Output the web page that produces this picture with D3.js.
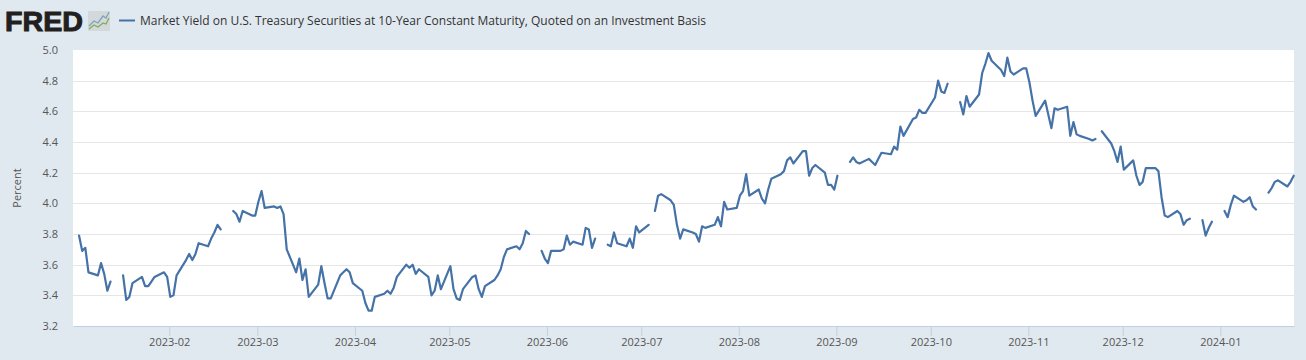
<!DOCTYPE html>
<html>
<head>
<meta charset="utf-8">
<title>Market Yield on U.S. Treasury Securities at 10-Year Constant Maturity</title>
<script src="https://cdn.jsdelivr.net/npm/d3@7"></script>
<style>
    html, body { margin: 0; padding: 0; background: #e1e9f0; }
    svg { display: block; }
    text { font-family: "Open Sans", sans-serif; }
</style>
</head>
<body>
<div id="chart"></div>
<script>
// Data: trading days and 10-year yields, null marks a market holiday (line breaks there)
const seriesName = 'Market Yield on U.S. Treasury Securities at 10-Year Constant Maturity, Quoted on an Investment Basis';
const yTickValues = [3.2, 3.4, 3.6, 3.8, 4.0, 4.2, 4.4, 4.6, 4.8, 5.0];
const xTickLabels = ['2023-02', '2023-03', '2023-04', '2023-05', '2023-06', '2023-07', '2023-08', '2023-09', '2023-10', '2023-11', '2023-12', '2024-01'];

const dates = [
    '2023-01-03', '2023-01-04', '2023-01-05', '2023-01-06', '2023-01-09', '2023-01-10', '2023-01-11', '2023-01-12', '2023-01-13', '2023-01-16', '2023-01-17', '2023-01-18', '2023-01-19', '2023-01-20', '2023-01-23', '2023-01-24', '2023-01-25', '2023-01-26', '2023-01-27', '2023-01-30', '2023-01-31',
    '2023-02-01', '2023-02-02', '2023-02-03', '2023-02-06', '2023-02-07', '2023-02-08', '2023-02-09', '2023-02-10', '2023-02-13', '2023-02-14', '2023-02-15', '2023-02-16', '2023-02-17', '2023-02-20', '2023-02-21', '2023-02-22', '2023-02-23', '2023-02-24', '2023-02-27', '2023-02-28',
    '2023-03-01', '2023-03-02', '2023-03-03', '2023-03-06', '2023-03-07', '2023-03-08', '2023-03-09', '2023-03-10', '2023-03-13', '2023-03-14', '2023-03-15', '2023-03-16', '2023-03-17', '2023-03-20', '2023-03-21', '2023-03-22', '2023-03-23', '2023-03-24', '2023-03-27', '2023-03-28', '2023-03-29', '2023-03-30', '2023-03-31',
    '2023-04-03', '2023-04-04', '2023-04-05', '2023-04-06', '2023-04-07', '2023-04-10', '2023-04-11', '2023-04-12', '2023-04-13', '2023-04-14', '2023-04-17', '2023-04-18', '2023-04-19', '2023-04-20', '2023-04-21', '2023-04-24', '2023-04-25', '2023-04-26', '2023-04-27', '2023-04-28',
    '2023-05-01', '2023-05-02', '2023-05-03', '2023-05-04', '2023-05-05', '2023-05-08', '2023-05-09', '2023-05-10', '2023-05-11', '2023-05-12', '2023-05-15', '2023-05-16', '2023-05-17', '2023-05-18', '2023-05-19', '2023-05-22', '2023-05-23', '2023-05-24', '2023-05-25', '2023-05-26', '2023-05-29', '2023-05-30', '2023-05-31',
    '2023-06-01', '2023-06-02', '2023-06-05', '2023-06-06', '2023-06-07', '2023-06-08', '2023-06-09', '2023-06-12', '2023-06-13', '2023-06-14', '2023-06-15', '2023-06-16', '2023-06-19', '2023-06-20', '2023-06-21', '2023-06-22', '2023-06-23', '2023-06-26', '2023-06-27', '2023-06-28', '2023-06-29', '2023-06-30',
    '2023-07-03', '2023-07-04', '2023-07-05', '2023-07-06', '2023-07-07', '2023-07-10', '2023-07-11', '2023-07-12', '2023-07-13', '2023-07-14', '2023-07-17', '2023-07-18', '2023-07-19', '2023-07-20', '2023-07-21', '2023-07-24', '2023-07-25', '2023-07-26', '2023-07-27', '2023-07-28', '2023-07-31',
    '2023-08-01', '2023-08-02', '2023-08-03', '2023-08-04', '2023-08-07', '2023-08-08', '2023-08-09', '2023-08-10', '2023-08-11', '2023-08-14', '2023-08-15', '2023-08-16', '2023-08-17', '2023-08-18', '2023-08-21', '2023-08-22', '2023-08-23', '2023-08-24', '2023-08-25', '2023-08-28', '2023-08-29', '2023-08-30', '2023-08-31',
    '2023-09-01', '2023-09-04', '2023-09-05', '2023-09-06', '2023-09-07', '2023-09-08', '2023-09-11', '2023-09-12', '2023-09-13', '2023-09-14', '2023-09-15', '2023-09-18', '2023-09-19', '2023-09-20', '2023-09-21', '2023-09-22', '2023-09-25', '2023-09-26', '2023-09-27', '2023-09-28', '2023-09-29',
    '2023-10-02', '2023-10-03', '2023-10-04', '2023-10-05', '2023-10-06', '2023-10-09', '2023-10-10', '2023-10-11', '2023-10-12', '2023-10-13', '2023-10-16', '2023-10-17', '2023-10-18', '2023-10-19', '2023-10-20', '2023-10-23', '2023-10-24', '2023-10-25', '2023-10-26', '2023-10-27', '2023-10-30', '2023-10-31',
    '2023-11-01', '2023-11-02', '2023-11-03', '2023-11-06', '2023-11-07', '2023-11-08', '2023-11-09', '2023-11-10', '2023-11-13', '2023-11-14', '2023-11-15', '2023-11-16', '2023-11-17', '2023-11-20', '2023-11-21', '2023-11-22', '2023-11-23', '2023-11-24', '2023-11-27', '2023-11-28', '2023-11-29', '2023-11-30',
    '2023-12-01', '2023-12-04', '2023-12-05', '2023-12-06', '2023-12-07', '2023-12-08', '2023-12-11', '2023-12-12', '2023-12-13', '2023-12-14', '2023-12-15', '2023-12-18', '2023-12-19', '2023-12-20', '2023-12-21', '2023-12-22', '2023-12-25', '2023-12-26', '2023-12-27', '2023-12-28', '2023-12-29',
    '2024-01-01', '2024-01-02', '2024-01-03', '2024-01-04', '2024-01-05', '2024-01-08', '2024-01-09', '2024-01-10', '2024-01-11', '2024-01-12', '2024-01-15', '2024-01-16', '2024-01-17', '2024-01-18', '2024-01-19', '2024-01-22', '2024-01-23', '2024-01-24'
];
const yields = [
    3.79, 3.69, 3.71, 3.55, 3.53, 3.61, 3.54, 3.43, 3.49, null, 3.53, 3.37, 3.39, 3.48, 3.52, 3.46, 3.46, 3.49, 3.52, 3.55, 3.52,
    3.39, 3.40, 3.53, 3.63, 3.67, 3.63, 3.67, 3.74, 3.72, 3.77, 3.81, 3.86, 3.83, null, 3.95, 3.93, 3.88, 3.95, 3.92, 3.92,
    4.01, 4.08, 3.97, 3.98, 3.97, 3.98, 3.93, 3.70, 3.55, 3.64, 3.50, 3.57, 3.39, 3.47, 3.59, 3.48, 3.38, 3.38, 3.53, 3.55, 3.57, 3.55, 3.48,
    3.43, 3.35, 3.30, 3.30, 3.39, 3.41, 3.43, 3.41, 3.45, 3.52, 3.60, 3.58, 3.60, 3.54, 3.57, 3.52, 3.40, 3.43, 3.53, 3.44,
    3.59, 3.44, 3.38, 3.37, 3.44, 3.52, 3.53, 3.44, 3.39, 3.46, 3.50, 3.53, 3.57, 3.65, 3.70, 3.72, 3.70, 3.74, 3.82, 3.80, null, 3.69, 3.64,
    3.61, 3.69, 3.69, 3.70, 3.79, 3.73, 3.75, 3.73, 3.84, 3.83, 3.71, 3.77, null, 3.73, 3.72, 3.81, 3.74, 3.72, 3.77, 3.71, 3.85, 3.81,
    3.86, null, 3.95, 4.05, 4.06, 4.02, 3.99, 3.86, 3.77, 3.83, 3.81, 3.80, 3.75, 3.85, 3.84, 3.86, 3.91, 3.85, 4.01, 3.96, 3.97,
    4.05, 4.08, 4.19, 4.05, 4.09, 4.03, 4.00, 4.09, 4.16, 4.19, 4.21, 4.28, 4.30, 4.26, 4.34, 4.34, 4.18, 4.23, 4.25, 4.20, 4.12, 4.12, 4.09,
    4.18, null, 4.27, 4.30, 4.27, 4.26, 4.29, 4.27, 4.25, 4.29, 4.33, 4.32, 4.37, 4.35, 4.50, 4.44, 4.55, 4.56, 4.61, 4.59, 4.59,
    4.69, 4.80, 4.73, 4.72, 4.78, null, 4.66, 4.58, 4.70, 4.63, 4.71, 4.85, 4.91, 4.98, 4.93, 4.87, 4.83, 4.95, 4.86, 4.84, 4.88, 4.88,
    4.79, 4.67, 4.57, 4.67, 4.58, 4.49, 4.62, 4.61, 4.63, 4.44, 4.53, 4.45, 4.44, 4.42, 4.41, 4.42, null, 4.47, 4.39, 4.34, 4.27, 4.37,
    4.22, 4.28, 4.18, 4.12, 4.14, 4.23, 4.23, 4.21, 4.04, 3.92, 3.91, 3.95, 3.93, 3.86, 3.89, 3.90, null, 3.89, 3.79, 3.84, 3.88,
    null, 3.95, 3.91, 3.99, 4.05, 4.01, 4.02, 4.04, 3.98, 3.96, null, 4.07, 4.10, 4.14, 4.15, 4.11, 4.14, 4.18
];

//Dimensions
const width = 1306;
const height = 360;
const plot = { left: 73, right: 1294, top: 50, bottom: 326 };
const hour = 36e5;

const parseDay = d3.utcParse('%Y-%m-%d');
const parseMonth = d3.utcParse('%Y-%m');
// Observations sit a few hours after midnight on the reference axis
const data = dates.map((d, i) => ({ date: new Date(parseDay(d).getTime() + 8 * hour), value: yields[i] }));

//Create core SVG
const svg = d3.select('#chart')
    .append('svg')
    .attr('width', width)
    .attr('height', height);

svg.append('rect')
    .attr('width', width)
    .attr('height', height)
    .attr('fill', '#e1e9f0');

svg.append('rect')
    .attr('x', plot.left)
    .attr('y', plot.top)
    .attr('width', plot.right - plot.left)
    .attr('height', plot.bottom - plot.top)
    .attr('fill', '#fff');

/*## Scales ##*/
const x = d3.scaleUtc()
    .domain([parseDay('2023-01-01').getTime() + 10 * hour, parseDay('2024-01-24').getTime() + 10 * hour])
    .range([plot.left, plot.right]);

const y = d3.scaleLinear()
    .domain([3.2, 5.0])
    .range([plot.bottom, plot.top]);

/*## Y axis + grid ##*/
const yAxis = svg.append('g')
    .attr('transform', 'translate(' + plot.left + ',0)')
    .call(d3.axisLeft(y)
        .tickValues(yTickValues)
        .tickFormat(d3.format('.1f'))
        .tickSize(0)
        .tickPadding(15));
yAxis.select('.domain').remove();
yAxis.selectAll('text')
    .style('font-family', '"Open Sans", sans-serif')
    .style('font-size', '11px')
    .style('fill', '#555');

svg.append('g')
    .selectAll('line')
    .data(yTickValues.filter(d => d > 3.2 && d < 5.0))
    .join('line')
    .attr('x1', plot.left)
    .attr('x2', plot.right)
    .attr('y1', d => Math.round(y(d)) + 0.5)
    .attr('y2', d => Math.round(y(d)) + 0.5)
    .attr('stroke', '#e6e6e6')
    .attr('stroke-width', 1);

svg.append('text')
    .text('Percent')
    .attr('transform', 'translate(21,188) rotate(-90)')
    .attr('text-anchor', 'middle')
    .style('font-size', '11px')
    .style('fill', '#555');

/*## X axis ##*/
const xAxis = svg.append('g')
    .attr('transform', 'translate(0,' + plot.bottom + ')')
    .call(d3.axisBottom(x)
        .tickValues(xTickLabels.map(parseMonth))
        .tickFormat(d3.utcFormat('%Y-%m'))
        .tickSize(10)
        .tickSizeOuter(0)
        .tickPadding(2));
xAxis.select('.domain').attr('stroke', '#c0d0e0');
xAxis.selectAll('line').attr('stroke', '#c0d0e0');
xAxis.selectAll('text')
    .style('font-family', '"Open Sans", sans-serif')
    .style('font-size', '11px')
    .style('fill', '#555');

/*## Series ##*/
const line = d3.line()
    .defined(d => d.value !== null)
    .x(d => x(d.date))
    .y(d => y(d.value));

svg.append('path')
    .datum(data)
    .attr('d', line)
    .attr('fill', 'none')
    .attr('stroke', '#4572a7')
    .attr('stroke-width', 2.2)
    .attr('stroke-linejoin', 'round')
    .attr('stroke-linecap', 'round');

/*## Legend ##*/
svg.append('line')
    .attr('x1', 119)
    .attr('x2', 135)
    .attr('y1', 20.5)
    .attr('y2', 20.5)
    .attr('stroke', '#4572a7')
    .attr('stroke-width', 2);

svg.append('text')
    .text(seriesName)
    .attr('x', 140)
    .attr('y', 25)
    .attr('textLength', 566)
    .style('font-size', '12px')
    .style('fill', '#333');

/*## FRED logo ##*/
const logo = svg.append('g');
logo.append('text')
    .text('FRED')
    .attr('x', 5)
    .attr('y', 30.5)
    .attr('textLength', 78)
    .attr('lengthAdjust', 'spacingAndGlyphs')
    .style('font-family', '"Liberation Sans", sans-serif')
    .style('font-weight', 'bold')
    .style('font-size', '28px')
    .style('fill', '#231f20')
    .style('stroke', '#231f20')
    .style('stroke-width', 1);

logo.append('rect')
    .attr('x', 88)
    .attr('y', 11)
    .attr('width', 22)
    .attr('height', 20)
    .attr('rx', 1)
    .attr('fill', '#d3d8da');
logo.append('path')
    .attr('d', 'M89,26 L94,21 L98,23 L103,16 L106,18 L109,12')
    .attr('fill', 'none')
    .attr('stroke', '#7fa3bd')
    .attr('stroke-width', 1.3);
logo.append('path')
    .attr('d', 'M89,29 L94,25 L98,27 L103,23 L106,24 L109,18')
    .attr('fill', 'none')
    .attr('stroke', '#7fae55')
    .attr('stroke-width', 1.3);
</script>
</body>
</html>
